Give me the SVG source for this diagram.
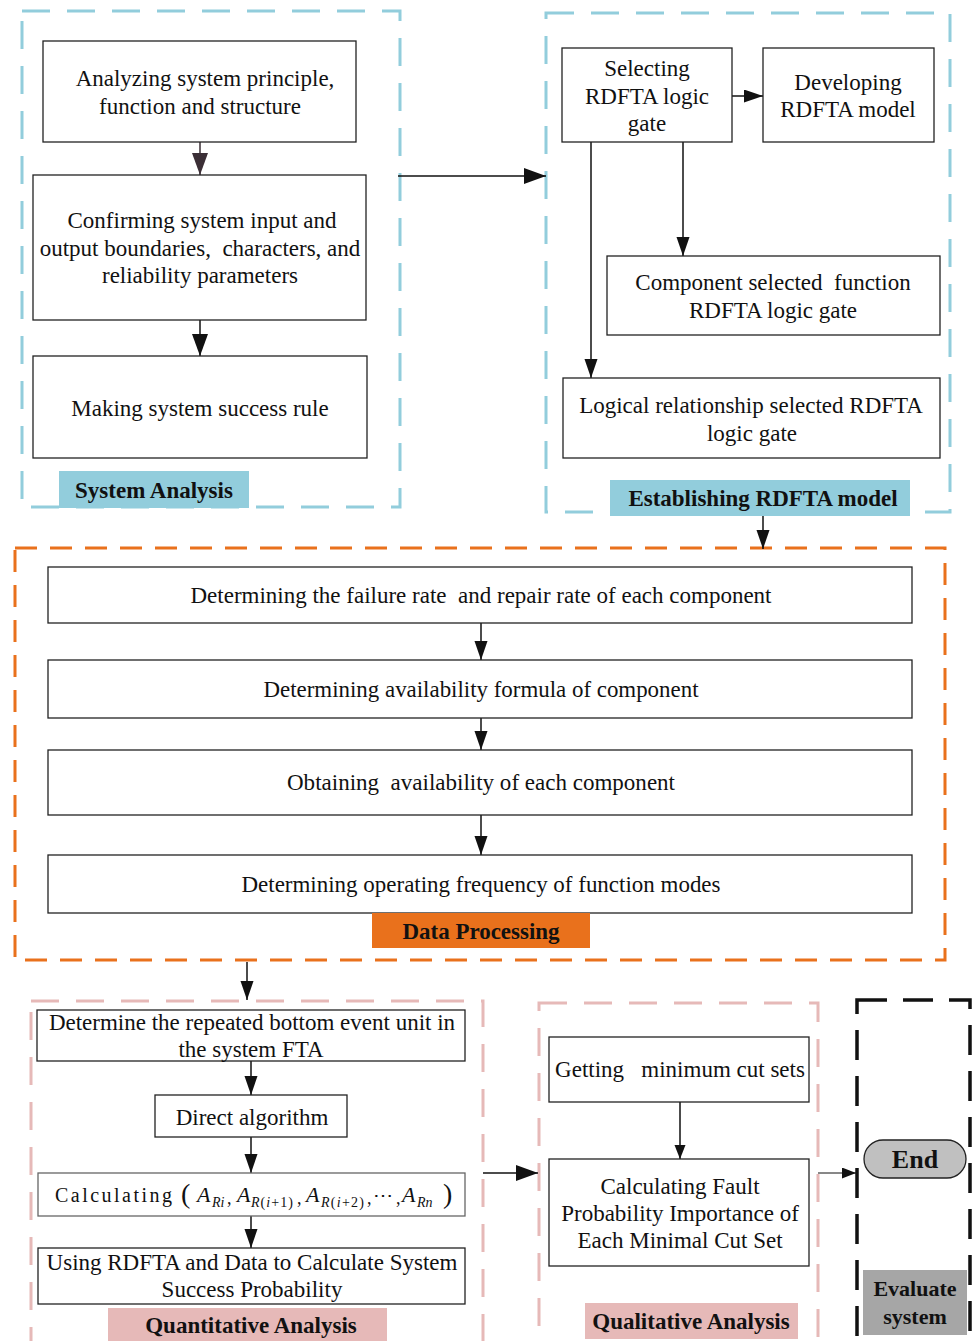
<svg xmlns="http://www.w3.org/2000/svg" width="973" height="1341" viewBox="0 0 973 1341">
<style>
.bx{fill:#fff;stroke:#222;stroke-width:1.3}
.t{font-family:"Liberation Serif","Times New Roman",serif;font-size:23px;fill:#111;text-anchor:middle;white-space:pre}
.td{font-family:"Liberation Serif","Times New Roman",serif;font-size:24px;fill:#111;text-anchor:middle;white-space:pre}
.lb{font-family:"Liberation Serif","Times New Roman",serif;font-size:23px;font-weight:bold;fill:#111;text-anchor:middle}
.blue{fill:none;stroke:#92CDDC;stroke-width:3;stroke-dasharray:28 17}
.orange{fill:none;stroke:#E9711C;stroke-width:3;stroke-dasharray:22 13}
.pink{fill:none;stroke:#E6B9B8;stroke-width:3;stroke-dasharray:28 17}
.black{fill:none;stroke:#111;stroke-width:3.5;stroke-dasharray:30 16}
.ln{fill:none;stroke:#111;stroke-width:1.5}
.m{font-family:"Liberation Serif","Times New Roman",serif;fill:#111}
</style>
<defs>
<marker id="aA" markerUnits="userSpaceOnUse" markerWidth="24" markerHeight="18" refX="22" refY="8" orient="auto"><path d="M0,0 L22,8 L0,16 z" fill="#111"/></marker>
<marker id="aD" markerUnits="userSpaceOnUse" markerWidth="24" markerHeight="18" refX="22" refY="8" orient="auto"><path d="M0,0 L22,8 L0,16 z" fill="#3B2F36"/></marker>
<marker id="aB" markerUnits="userSpaceOnUse" markerWidth="22" markerHeight="16" refX="19" refY="6.5" orient="auto"><path d="M0,0 L19,6.5 L0,13 z" fill="#111"/></marker>
<marker id="aC" markerUnits="userSpaceOnUse" markerWidth="16" markerHeight="14" refX="14" refY="5.5" orient="auto"><path d="M0,0 L14,5.5 L0,11 z" fill="#111"/></marker>
</defs>

<!-- group frames -->
<g id="frames">
<rect class="blue" x="22" y="11" width="378" height="496"/>
<rect class="blue" x="546" y="13" width="404" height="499"/>
<rect class="orange" x="15" y="548" width="930" height="412"/>
<rect class="pink" x="31" y="1001" width="452" height="400"/>
<rect class="pink" x="539" y="1003" width="279" height="400"/>
<rect class="black" x="857" y="1000" width="113" height="400"/>
</g>

<!-- connectors -->
<g id="connectors">
<line class="ln" x1="200" y1="142" x2="200" y2="175" marker-end="url(#aD)" style="stroke:#3B2F36"/>
<line class="ln" x1="200" y1="320" x2="200" y2="356" marker-end="url(#aA)"/>
<line class="ln" x1="398" y1="176" x2="546" y2="176" marker-end="url(#aA)"/>
<line class="ln" x1="732" y1="96" x2="763" y2="96" marker-end="url(#aB)"/>
<line class="ln" x1="683" y1="142" x2="683" y2="256" marker-end="url(#aB)"/>
<line class="ln" x1="591" y1="142" x2="591" y2="378" marker-end="url(#aB)"/>
<line class="ln" x1="763" y1="516" x2="763" y2="549" marker-end="url(#aB)"/>
<line class="ln" x1="481" y1="623" x2="481" y2="660" marker-end="url(#aB)"/>
<line class="ln" x1="481" y1="718" x2="481" y2="750" marker-end="url(#aB)"/>
<line class="ln" x1="481" y1="815" x2="481" y2="855" marker-end="url(#aB)"/>
<line class="ln" x1="247" y1="962" x2="247" y2="1000" marker-end="url(#aB)"/>
<line class="ln" x1="251" y1="1061" x2="251" y2="1095" marker-end="url(#aB)"/>
<line class="ln" x1="251" y1="1137" x2="251" y2="1173" marker-end="url(#aB)"/>
<line class="ln" x1="251" y1="1216" x2="251" y2="1248" marker-end="url(#aB)"/>
<line class="ln" x1="483" y1="1173" x2="538" y2="1173" marker-end="url(#aA)"/>
<line class="ln" x1="680" y1="1102" x2="680" y2="1159" marker-end="url(#aC)"/>
<line class="ln" x1="818" y1="1173" x2="856" y2="1173" marker-end="url(#aC)" style="stroke-width:1"/>
</g>

<!-- System Analysis -->
<g id="sa1"><rect class="bx" x="43" y="41" width="313" height="101"/>
<text class="t" x="205" y="86">Analyzing system principle,</text>
<text class="t" x="200" y="114">function and structure</text></g>
<g id="sa2"><rect class="bx" x="33" y="175" width="333" height="145"/>
<text class="t" x="202" y="228">Confirming system input and</text>
<text class="t" x="200" y="256">output boundaries,  characters, and</text>
<text class="t" x="200" y="283">reliability parameters</text></g>
<g id="sa3"><rect class="bx" x="33" y="356" width="334" height="102"/>
<text class="t" x="200" y="416">Making system success rule</text></g>
<g id="sa-label"><rect x="59" y="471" width="190" height="37" fill="#92CDDC"/>
<text class="lb" x="154" y="498">System Analysis</text></g>

<!-- Establishing RDFTA model -->
<g id="rm1"><rect class="bx" x="562" y="48" width="170" height="94"/>
<text class="t" x="647" y="76">Selecting</text>
<text class="t" x="647" y="104">RDFTA logic</text>
<text class="t" x="647" y="131">gate</text></g>
<g id="rm2"><rect class="bx" x="763" y="48" width="171" height="94"/>
<text class="t" x="848" y="90">Developing</text>
<text class="t" x="848" y="117">RDFTA model</text></g>
<g id="rm3"><rect class="bx" x="607" y="256" width="333" height="79"/>
<text class="t" x="773" y="290">Component selected  function</text>
<text class="t" x="773" y="318">RDFTA logic gate</text></g>
<g id="rm4"><rect class="bx" x="563" y="378" width="377" height="80"/>
<text class="t" x="751" y="413">Logical relationship selected RDFTA</text>
<text class="t" x="752" y="441">logic gate</text></g>
<g id="rm-label"><rect x="610" y="480" width="300" height="36" fill="#92CDDC"/>
<text class="lb" x="763" y="506">Establishing RDFTA model</text></g>

<!-- Data Processing -->
<g id="dp1"><rect class="bx" x="48" y="567" width="864" height="56"/>
<text class="td" x="481" y="603" textLength="581" lengthAdjust="spacingAndGlyphs">Determining the failure rate  and repair rate of each component</text></g>
<g id="dp2"><rect class="bx" x="48" y="660" width="864" height="58"/>
<text class="td" x="481" y="697" textLength="435" lengthAdjust="spacingAndGlyphs">Determining availability formula of component</text></g>
<g id="dp3"><rect class="bx" x="48" y="750" width="864" height="65"/>
<text class="td" x="481" y="790" textLength="388" lengthAdjust="spacingAndGlyphs">Obtaining  availability of each component</text></g>
<g id="dp4"><rect class="bx" x="48" y="855" width="864" height="58"/>
<text class="td" x="481" y="892" textLength="479" lengthAdjust="spacingAndGlyphs">Determining operating frequency of function modes</text></g>
<g id="dp-label"><rect x="372" y="913" width="218" height="35" fill="#E9711C"/>
<text class="lb" x="481" y="939" textLength="157" lengthAdjust="spacingAndGlyphs">Data Processing</text></g>

<!-- Quantitative Analysis -->
<g id="qa1"><rect class="bx" x="37" y="1010" width="428" height="51"/>
<text class="t" x="252" y="1030">Determine the repeated bottom event unit in</text>
<text class="t" x="251" y="1057">the system FTA</text></g>
<g id="qa2"><rect class="bx" x="155" y="1095" width="192" height="42"/>
<text class="t" x="252" y="1125">Direct algorithm</text></g>
<g id="qa3"><rect class="bx" x="38" y="1173" width="427" height="43" style="stroke:#666"/>
<text class="m" x="55" y="1202" font-size="20" textLength="117" lengthAdjust="spacing">Calculating</text>
<text class="m" x="181" y="1203" font-size="28">(</text>
<text class="m" x="197" y="1202" font-size="22" font-style="italic">A</text>
<text class="m" x="212" y="1207" font-size="14" font-style="italic">Ri</text>
<text class="m" x="227" y="1204" font-size="18">,</text>
<text class="m" x="237" y="1202" font-size="22" font-style="italic">A</text>
<text class="m" x="251" y="1207" font-size="14" textLength="42" lengthAdjust="spacing"><tspan font-style="italic">R</tspan>(<tspan font-style="italic">i</tspan>+1)</text>
<text class="m" x="297" y="1204" font-size="18">,</text>
<text class="m" x="306" y="1202" font-size="22" font-style="italic">A</text>
<text class="m" x="321" y="1207" font-size="14" textLength="43" lengthAdjust="spacing"><tspan font-style="italic">R</tspan>(<tspan font-style="italic">i</tspan>+2)</text>
<text class="m" x="367" y="1204" font-size="18">,</text>
<text class="m" x="373" y="1201" font-size="18" textLength="20" lengthAdjust="spacingAndGlyphs">⋯</text>
<text class="m" x="396" y="1204" font-size="18">,</text>
<text class="m" x="402" y="1202" font-size="22" font-style="italic">A</text>
<text class="m" x="417" y="1207" font-size="14" font-style="italic">Rn</text>
<text class="m" x="443" y="1203" font-size="28">)</text></g>
<g id="qa4"><rect class="bx" x="38" y="1248" width="427" height="56"/>
<text class="t" x="252" y="1270">Using RDFTA and Data to Calculate System</text>
<text class="t" x="252" y="1297">Success Probability</text></g>
<g id="qa-label"><rect x="108" y="1308" width="279" height="33" fill="#E6B9B8"/>
<text class="lb" x="251" y="1333">Quantitative Analysis</text></g>

<!-- Qualitative Analysis -->
<g id="ql1"><rect class="bx" x="549" y="1037" width="260" height="65"/>
<text class="t" x="680" y="1077">Getting   minimum cut sets</text></g>
<g id="ql2"><rect class="bx" x="549" y="1159" width="260" height="107"/>
<text class="t" x="680" y="1194">Calculating Fault</text>
<text class="t" x="680" y="1221">Probability Importance of</text>
<text class="t" x="680" y="1248">Each Minimal Cut Set</text></g>
<g id="ql-label"><rect x="585" y="1303" width="213" height="36" fill="#E6B9B8"/>
<text class="lb" x="691" y="1329">Qualitative Analysis</text></g>

<!-- Evaluate system -->
<g id="end"><rect x="864" y="1140" width="102" height="38" rx="19" ry="19" fill="#C0C0C0" stroke="#222" stroke-width="1.3"/>
<text class="lb" x="915" y="1168" style="font-size:26px">End</text></g>
<g id="ev-label"><rect x="863" y="1270" width="104" height="65" fill="#A6A6A6"/>
<text class="lb" x="915" y="1296" style="font-size:22px">Evaluate</text>
<text class="lb" x="915" y="1324" style="font-size:22px">system</text></g>
</svg>
